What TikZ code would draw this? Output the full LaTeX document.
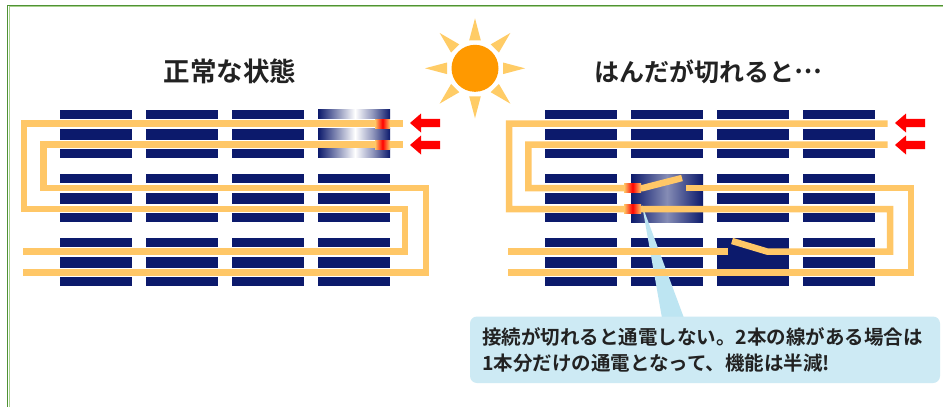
\documentclass[tikz,border=0pt]{standalone}
\usepackage{fontspec}
\newfontfamily\jpfont{Noto Sans CJK JP}[BoldFont={Noto Sans CJK JP Bold}]
\definecolor{cNavy}{HTML}{0C1A6C}
\definecolor{cWire}{HTML}{FFC767}
\definecolor{cRay}{HTML}{FFCC66}
\definecolor{cSun}{HTML}{FF9900}
\definecolor{cBox}{HTML}{CDEAF4}
\definecolor{cPointer}{HTML}{BDE5F2}
\definecolor{cFrame}{HTML}{4F9235}
\definecolor{cFrameLight}{HTML}{A9D28E}
\definecolor{cText}{HTML}{222222}
\begin{document}
\begin{tikzpicture}[x=1pt,y=-1pt,
  wirepath/.style={draw=cWire, line width=6.5pt, line join=miter, line cap=butt},
  hotspot/.style={left color=cWire, right color=cWire, middle color=red},
  arrowshape/.style={fill=red},
  title/.style={font=\jpfont\bfseries\fontsize{25}{30}\selectfont, text=cText, inner sep=0pt},
  note/.style={font=\jpfont\bfseries\fontsize{19.5}{26.6}\selectfont, text=cText, align=left, inner sep=0pt}]
\useasboundingbox (0,0) rectangle (943,407);
\fill[white] (0,0) rectangle (943,407);

% frame (top and left edges)
\draw[cFrame, line width=1.4pt] (943,5.6) -- (7.7,5.6) -- (7.7,407);
\draw[cFrameLight, line width=1pt] (943,6.9) -- (9,6.9) -- (9,407);

% titles
\node[title, font=\jpfont\bfseries\fontsize{26.5}{30}\selectfont] (titleL) at (230,71.7) {正常な状態};
\node[title] (titleR) at (708.3,71.7) {はんだが切れると\raisebox{0.3em}{…}};

% sun
\node[circle, fill=cSun, minimum size=47pt, inner sep=0pt] (sun) at (475,68.3) {};
\begin{scope}[shift={(475,68.3)}]
  \foreach \a in {0,45,...,315}
    \fill[cRay, rotate=\a] (28,-5.8) -- (50,0) -- (28,5.8) -- cycle;
\end{scope}

% cells: three bars per cell, two panels
\foreach \px in {0,485}{
  \foreach \cx in {60,146,232,318}{
    \foreach \gy in {109.5,174,237.5}{
      \fill[cNavy] (\px+\cx,\gy) rectangle ++(72,9);
      \fill[cNavy] (\px+\cx,\gy+19) rectangle ++(72,11);
      \fill[cNavy] (\px+\cx,\gy+39) rectangle ++(72,9);
    }}}

% heated cell in the normal panel
\foreach \ya/\yb in {109.5/118.5, 128.5/139.5, 148.5/157.5}{
  \shade[left color=cNavy, right color=white] (318,\ya) rectangle (355,\yb);
  \shade[left color=white, right color=cNavy, middle color=cNavy!45!white] (355,\ya) rectangle (390,\yb);
}

% damaged cells in the broken panel
\shade[left color=cNavy, right color=cNavy, middle color=cNavy!50!white] (631,174) rectangle (703,222);
\fill[cNavy] (717,237.5) rectangle (789,285.5);

% callout pointer
\fill[cPointer] (642,205) -- (662,318) -- (684,318) -- cycle;

% wires, normal panel
\draw[wirepath] (402.7,123.5) -- (24,123.5) -- (24,209) -- (405,209) -- (405,251.5) -- (23.3,251.5);
\draw[wirepath] (402.7,144.5) -- (43.3,144.5) -- (43.3,188) -- (425.8,188) -- (425.8,272.5) -- (23.3,272.5);

% wires, broken panel
\draw[wirepath] (887.7,123.5) -- (509,123.5) -- (509,209) -- (890,209) -- (890,251.5) -- (767,251.5) -- (732,241);
\draw[wirepath] (728.3,251.5) -- (508.3,251.5);
\draw[wirepath] (887.7,144.5) -- (528.3,144.5) -- (528.3,188) -- (643,188) -- (682,178);
\draw[wirepath] (686,188) -- (910.8,188) -- (910.8,272.5) -- (508.3,272.5);

% hot spots
\shade[hotspot] (375,119) rectangle (390,128);
\shade[hotspot] (375,140) rectangle (390,149);
\shade[hotspot] (624,183.5) rectangle (641,192.5);
\shade[hotspot] (624,204.5) rectangle (641,213.5);

% current arrows
\foreach \ox in {0,485}{
  \foreach \c in {123,145}{
    \fill[arrowshape] (\ox+410,\c) -- (\ox+421,\c-9.5) -- (\ox+421,\c-4.2) -- (\ox+440,\c-4.2)
      -- (\ox+440,\c+4.2) -- (\ox+421,\c+4.2) -- (\ox+421,\c+9.5) -- cycle;
  }}

% callout box
\fill[cBox, rounded corners=7pt] (470,316.5) rectangle (940,383);
\node[note, anchor=west] (note) at (482,350)
  {接続が切れると通電しない。2本の線がある場合は\\1本分だけの通電となって、機能は半減!};
\end{tikzpicture}
\end{document}
